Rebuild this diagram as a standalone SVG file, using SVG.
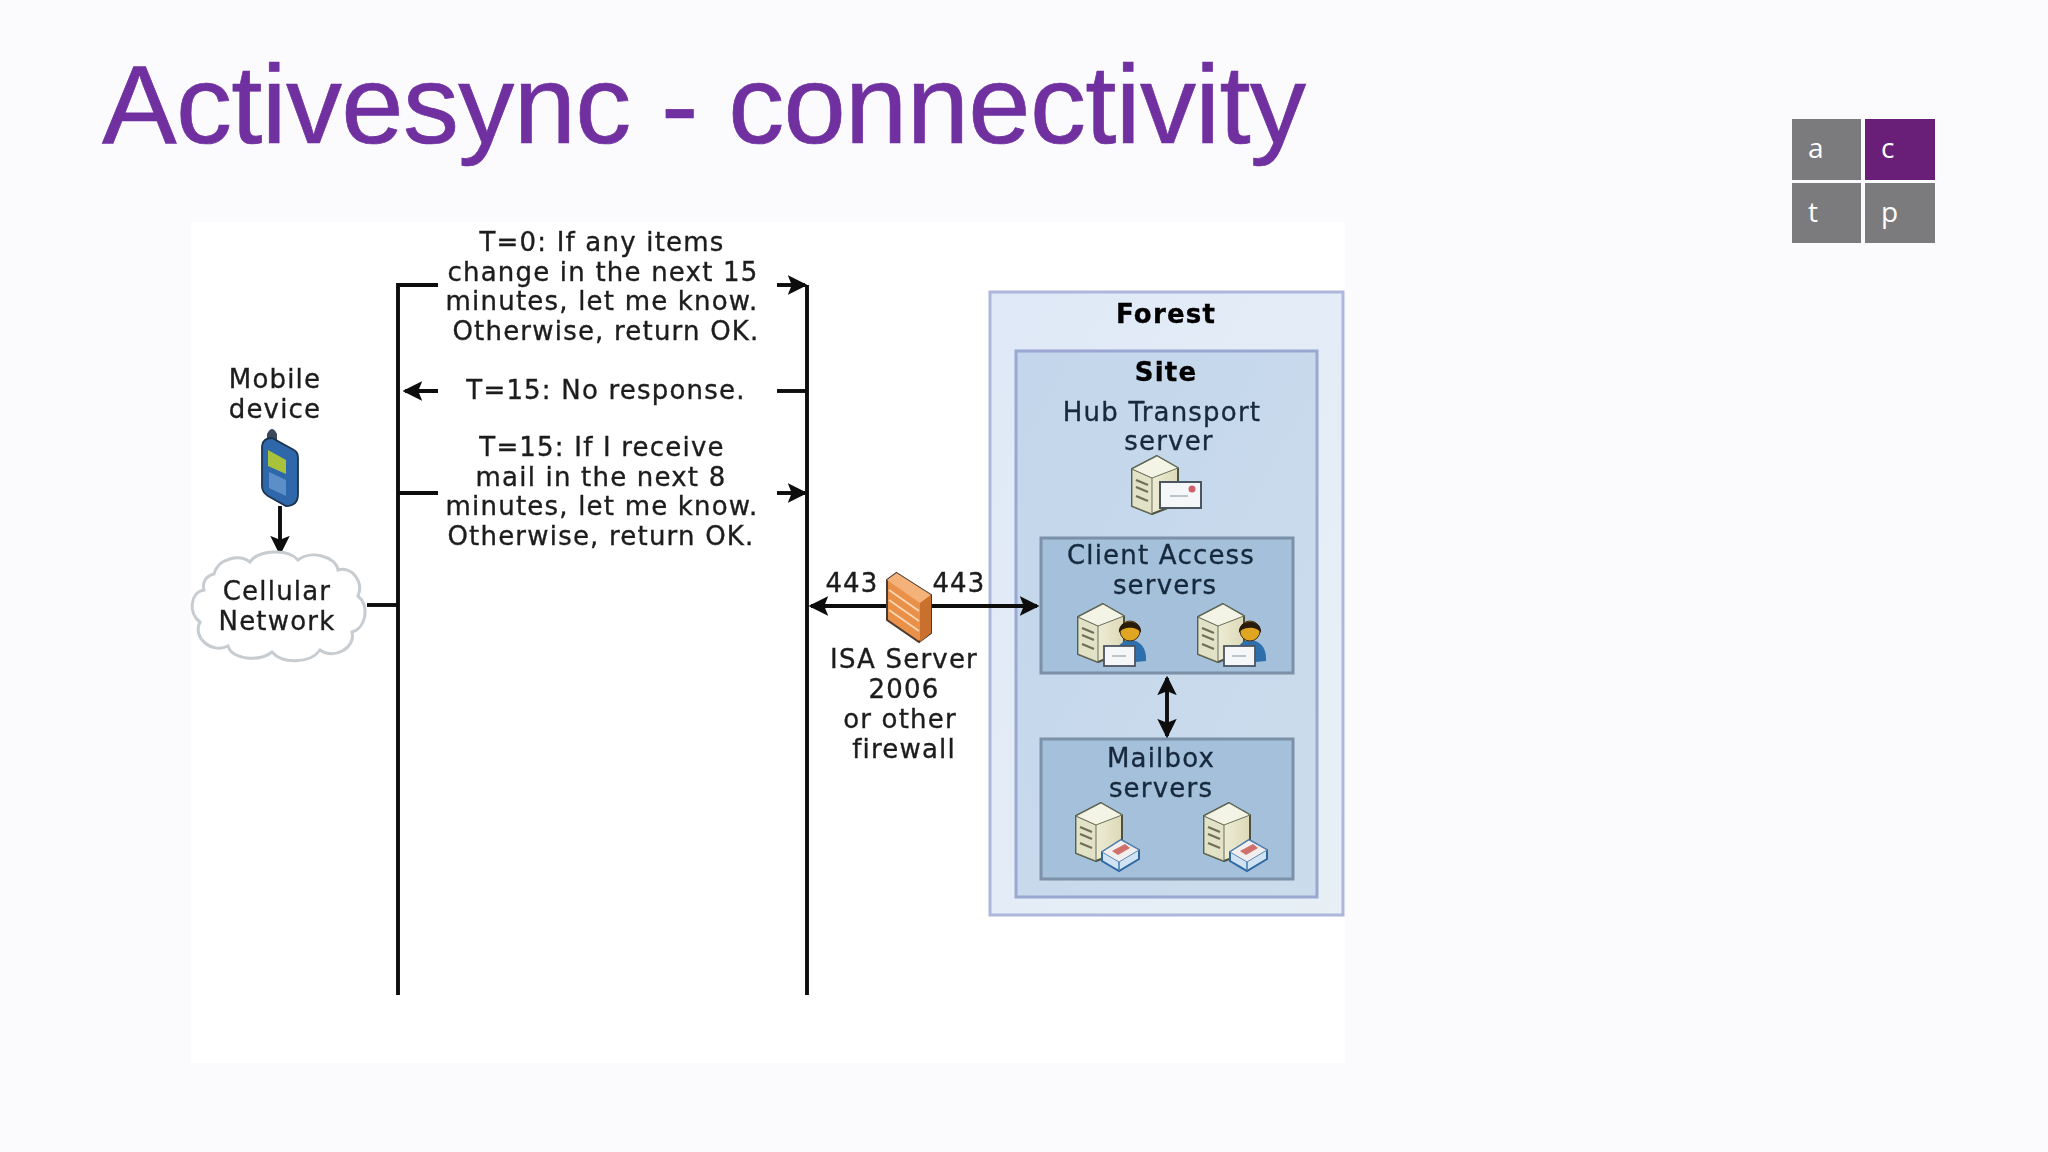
<svg xmlns="http://www.w3.org/2000/svg" width="2048" height="1152" viewBox="0 0 2048 1152">
<style>
.t{font-family:"DejaVu Sans",Verdana,sans-serif;font-size:26px;letter-spacing:1.2px;fill:#1c1c1c;stroke:#1c1c1c;stroke-width:0.35px;text-anchor:middle}
.in{fill:#17293d;stroke:#17293d}
.b{font-weight:bold;fill:#000;stroke:#000}
.soft{filter:url(#blur)}
.ln{stroke:#0c0c0c;stroke-width:3.9;fill:none}
.tile{font-family:"Open Sans",sans-serif;font-size:28px;fill:#fff}
</style>
<defs>
<filter id="blur" x="-5%" y="-5%" width="110%" height="110%"><feGaussianBlur stdDeviation="0.6"/></filter>
<marker id="ah" markerWidth="5" markerHeight="5" refX="4.4" refY="2.5" orient="auto-start-reverse" markerUnits="strokeWidth"><path d="M0 0L5 2.5L0 5L1 2.5Z" fill="#0c0c0c"/></marker>
<linearGradient id="forestG" x1="0" y1="0" x2="1" y2="1"><stop offset="0" stop-color="#dfe9f7"/><stop offset="1" stop-color="#e8f0f6"/></linearGradient>
<linearGradient id="siteG" x1="0" y1="0" x2="1" y2="1"><stop offset="0" stop-color="#c3d6eb"/><stop offset="1" stop-color="#cbdcec"/></linearGradient>
<linearGradient id="srv" x1="0" y1="0" x2="1" y2="0"><stop offset="0" stop-color="#faf9ea"/><stop offset="1" stop-color="#dcdab8"/></linearGradient>
<g id="server">
<path d="M0 13L25 0L46 12V48L20 58L0 50Z" fill="url(#srv)" stroke="#4c5240" stroke-width="2" stroke-linejoin="round"/>
<path d="M0 13L20 22V58L0 50Z" fill="#e2e2c6" stroke="#6b705c" stroke-width="1"/>
<path d="M0 13L25 0L46 12L20 22Z" fill="#f4f4e6" stroke="#6b705c" stroke-width="1"/>
<path d="M4 24l12 5M4 31l12 5M4 40l12 5" stroke="#6f705a" stroke-width="2.4"/>
</g>
<g id="person">
<path d="M0 38C2 24 10 21 15 21C24 21 32 28 31 42L10 44Z" fill="#2f6fae"/>
<circle cx="15" cy="12" r="10" fill="#e0a622" stroke="#4a3010" stroke-width="1"/>
<path d="M4 14C2 -1 28 -1 26 14C22 7 8 7 4 14Z" fill="#2b1c0c"/>
</g>
<g id="paper"><rect width="31" height="20" fill="#f4f6f8" stroke="#4c5660" stroke-width="1.8"/><path d="M8 10h14" stroke="#bcc4cc" stroke-width="2"/></g>
<g id="caServer"><use href="#server"/><use href="#person" x="37" y="15"/><use href="#paper" x="26" y="42"/></g>
<g id="mbServer"><use href="#server"/>
<path d="M26 49L45 37L63 47V56L43 68L26 58Z" fill="#cfe3f5" stroke="#2f68a0" stroke-width="2"/>
<path d="M26 49L43 59L63 47L45 37Z" fill="#f1eef0" stroke="#5f87b0" stroke-width="1"/>
<path d="M36 48L49 41L54 45L42 52Z" fill="#cf6f6a"/>
<path d="M43 59V68" stroke="#3f78ad" stroke-width="1.5"/>
</g>
</defs>
<rect width="2048" height="1152" fill="#fbfbfd"/>
<text id="title" x="102" y="143" font-family="'Liberation Sans',Arial,sans-serif" font-size="112" fill="#7030a0" stroke="#7030a0" stroke-width="0.7" textLength="1204" lengthAdjust="spacing">Activesync - connectivity</text>
<g id="logo">
<rect x="1792" y="119" width="69" height="61" fill="#7b7a7d"/><rect x="1865" y="119" width="70" height="61" fill="#691f78"/>
<rect x="1792" y="183" width="69" height="60" fill="#7b7a7d"/><rect x="1865" y="183" width="70" height="60" fill="#7b7a7d"/>
<text class="tile" x="1808" y="158">a</text><text class="tile" x="1881" y="158">c</text><text class="tile" x="1808" y="222">t</text><text class="tile" x="1881" y="222">p</text>
</g>
<rect id="panel" x="191" y="222" width="1154" height="841" fill="#fff"/>
<g class="soft">
<g id="forest"><rect x="990" y="292" width="353" height="623" fill="url(#forestG)" stroke="#aeb6dc" stroke-width="3"/><text class="t b" x="1166" y="323">Forest</text></g>
<g id="site"><rect x="1016" y="351" width="301" height="546" fill="url(#siteG)" stroke="#9aa7d2" stroke-width="3"/><text class="t b" x="1166" y="381">Site</text>
<text class="t in" x="1162" y="421">Hub Transport</text><text class="t in" x="1169" y="450">server</text></g>
<g id="hub"><use href="#server" x="1132" y="456"/><rect x="1160" y="482" width="41" height="26" fill="#f4f6f8" stroke="#4c5660" stroke-width="2"/><path d="M1170 496h18" stroke="#bcc4cc" stroke-width="2"/><circle cx="1192" cy="489" r="3.5" fill="#d0606a"/></g>
<g id="clientAccess"><rect x="1041" y="538" width="252" height="135" fill="#a5c0da" stroke="#7b90a8" stroke-width="3"/>
<text class="t in" x="1161" y="564">Client Access</text><text class="t in" x="1165" y="594">servers</text>
<use href="#caServer" x="1078" y="604"/><use href="#caServer" x="1198" y="604"/></g>
<g id="mailbox"><rect x="1041" y="739" width="252" height="140" fill="#a5c0da" stroke="#7b90a8" stroke-width="3"/>
<text class="t in" x="1161" y="767">Mailbox</text><text class="t in" x="1161" y="797">servers</text>
<use href="#mbServer" x="1076" y="803"/><use href="#mbServer" x="1204" y="803"/></g>
<g id="connectors">
<path class="ln" d="M438 285H398V995"/><path class="ln" d="M807 285V995"/>
<path class="ln" d="M777 285H805" marker-end="url(#ah)"/>
<path class="ln" d="M438 391H405" marker-end="url(#ah)"/><path class="ln" d="M777 391H807"/>
<path class="ln" d="M398 493H438"/><path class="ln" d="M777 493H805" marker-end="url(#ah)"/>
<path class="ln" d="M367 605H398"/>
<path class="ln" d="M280 506V553" marker-end="url(#ah)"/>
<path class="ln" d="M811 606H1037" marker-start="url(#ah)" marker-end="url(#ah)"/>
<path class="ln" d="M1167 678V736" marker-start="url(#ah)" marker-end="url(#ah)"/>
</g>
<g id="msg1"><text class="t" x="602" y="251">T=0: If any items</text><text class="t" x="603" y="281">change in the next 15</text><text class="t" x="602" y="310">minutes, let me know.</text><text class="t" x="606" y="340">Otherwise, return OK.</text></g>
<g id="msg2"><text class="t" x="606" y="399">T=15: No response.</text></g>
<g id="msg3"><text class="t" x="602" y="456">T=15: If I receive</text><text class="t" x="601" y="486">mail in the next 8</text><text class="t" x="602" y="515">minutes, let me know.</text><text class="t" x="601" y="545">Otherwise, return OK.</text></g>
<g id="mobile"><text class="t" x="275" y="388">Mobile</text><text class="t" x="275" y="418">device</text>
<path d="M267 446V434Q272 424 277 434V446Z" fill="#3b4a5a"/>
<path d="M262 446Q263 438 272 438L294 450Q298 452 298 458V494Q298 506 286 506L268 496Q262 492 262 486Z" fill="#2f68ab" stroke="#1d3450" stroke-width="1.8"/>
<path d="M268 450L286 460V474L268 466Z" fill="#a9c23a"/>
<path d="M269 472L286 480V496L269 488Z" fill="#5b8fc8"/></g>
<g id="cloud"><path d="M214 574C218 558 240 554 250 562C258 550 288 548 298 560C310 550 336 556 338 570C352 566 364 582 358 596C370 606 366 628 352 632C356 648 334 660 320 650C310 664 282 664 272 652C260 662 232 660 228 646C212 654 192 638 200 622C188 614 190 592 204 590C202 582 206 576 214 574Z" fill="#fff" stroke="#c6ccd0" stroke-width="3"/>
<text class="t" x="277" y="600">Cellular</text><text class="t" x="277" y="630">Network</text></g>
<g id="firewall"><path d="M896.500 573L931 595V633L919 642L887 620V580Z" fill="#e9914a" stroke="#4a3a30" stroke-width="2"/>
<path d="M887 580L896.500 573L931 595L920 603Z" fill="#f4b27a"/><path d="M920 603V642L931 633V595Z" fill="#c9702e"/>
<path d="M889 590L919 611M889 600L919 621M889 610L919 631" stroke="#fbd9b8" stroke-width="1.6"/>
</g>
<g id="ports"><text class="t" x="852" y="592">443</text><text class="t" x="959" y="592">443</text>
<text class="t" x="904" y="668">ISA Server</text><text class="t" x="904" y="698">2006</text><text class="t" x="900" y="728">or other</text><text class="t" x="904" y="758">firewall</text></g>
</g>
</svg>
